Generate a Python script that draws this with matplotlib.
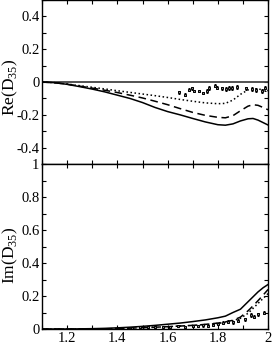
import numpy as np
import matplotlib
matplotlib.use('Agg')
import matplotlib.pyplot as plt
from matplotlib.ticker import MultipleLocator, FuncFormatter

plt.rcParams['font.family'] = ['Liberation Serif', 'DejaVu Serif']
plt.rcParams['mathtext.fontset'] = 'custom'
plt.rcParams['mathtext.rm'] = 'Liberation Serif'

# model curves
x_th = [1.1, 1.15, 1.2, 1.25, 1.3, 1.35, 1.4, 1.45, 1.5, 1.55, 1.6, 1.65, 1.7,
        1.75, 1.8, 1.83, 1.86, 1.89, 1.92, 1.94, 1.96, 1.98, 2.0]
re_solid = [0, -0.004, -0.014, -0.028, -0.043, -0.06, -0.08, -0.1, -0.125, -0.155,
            -0.18, -0.2, -0.222, -0.243, -0.26, -0.263, -0.255, -0.237, -0.224,
            -0.222, -0.232, -0.247, -0.262]
re_dash = [0, -0.004, -0.013, -0.025, -0.037, -0.05, -0.064, -0.08, -0.097, -0.117,
           -0.138, -0.162, -0.185, -0.203, -0.215, -0.218, -0.205, -0.175, -0.147,
           -0.138, -0.142, -0.155, -0.169]
re_dot = [0, -0.004, -0.012, -0.022, -0.032, -0.042, -0.053, -0.063, -0.073, -0.083,
          -0.094, -0.106, -0.117, -0.127, -0.132, -0.13, -0.11, -0.075, -0.048,
          -0.04, -0.042, -0.048, -0.052]
im_solid = [0, 0, 0, 0.001, 0.002, 0.004, 0.007, 0.011, 0.016, 0.022, 0.029, 0.036,
            0.045, 0.055, 0.068, 0.078, 0.1, 0.12, 0.165, 0.195, 0.225, 0.25, 0.27]
im_dash = [0, 0, 0, 0, 0, 0.001, 0.003, 0.005, 0.008, 0.011, 0.014, 0.018, 0.022,
           0.028, 0.036, 0.043, 0.053, 0.072, 0.11, 0.14, 0.172, 0.205, 0.24]
im_dot = [0, 0, 0, 0, 0, 0.001, 0.003, 0.005, 0.008, 0.011, 0.014, 0.018, 0.022,
          0.027, 0.034, 0.04, 0.05, 0.065, 0.095, 0.125, 0.155, 0.185, 0.215]

# data points
x_re = [1.645, 1.670, 1.685, 1.696, 1.706, 1.725, 1.742, 1.757, 1.765, 1.788, 1.798,
        1.818, 1.833, 1.845, 1.858, 1.876, 1.913, 1.936, 1.953, 1.976, 1.989]
y_re = [-0.063, -0.077, -0.047, -0.039, -0.055, -0.055, -0.067, -0.055, -0.034, -0.022,
        -0.034, -0.039, -0.043, -0.039, -0.034, -0.031, -0.039, -0.043, -0.051, -0.055,
        -0.039]
e_re = [0.008, 0.008, 0.01, 0.01, 0.008, 0.008, 0.008, 0.01, 0.012, 0.01, 0.01,
        0.01, 0.012, 0.012, 0.012, 0.012, 0.01, 0.01, 0.012, 0.012, 0.014]
x_im = [1.46, 1.49, 1.52, 1.55, 1.58, 1.61, 1.64, 1.67, 1.70, 1.72, 1.74, 1.76, 1.78,
        1.80, 1.82, 1.84, 1.86, 1.88, 1.91, 1.93, 1.945, 1.96, 1.985]
y_im = [0.008, 0.010, 0.012, 0.014, 0.015, 0.012, 0.018, 0.015, 0.020, 0.018, 0.022,
        0.020, 0.025, 0.030, 0.038, 0.045, 0.042, 0.050, 0.058, 0.085, 0.075, 0.090,
        0.100]
e_im = [0.004, 0.004, 0.005, 0.005, 0.005, 0.005, 0.006, 0.006, 0.006, 0.006, 0.007,
        0.007, 0.008, 0.008, 0.008, 0.009, 0.009, 0.01, 0.01, 0.01, 0.01, 0.01, 0.01]

fig = plt.figure(figsize=(2.73, 3.44), dpi=100)
ax1 = fig.add_axes([0.154, 0.523, 0.828, 0.477])
ax2 = fig.add_axes([0.154, 0.0436, 0.828, 0.4794])

fmt = FuncFormatter(lambda v, p: '%g' % round(v, 3))

for ax in (ax1, ax2):
    ax.set_xlim(1.1, 2.0)
    ax.xaxis.set_major_locator(MultipleLocator(0.2))
    ax.xaxis.set_minor_locator(MultipleLocator(0.1))
    ax.yaxis.set_major_locator(MultipleLocator(0.2))
    ax.yaxis.set_minor_locator(MultipleLocator(0.1))
    ax.tick_params(which='both', direction='in', top=True, right=True,
                   length=3, width=0.8, labelsize=10.5, pad=2)
    ax.xaxis.set_major_formatter(fmt)
    ax.yaxis.set_major_formatter(fmt)
    for s in ax.spines.values():
        s.set_linewidth(1.0)

ax1.set_ylim(-0.5, 0.5)
ax1.set_yticks([-0.4, -0.2, 0, 0.2, 0.4])
ax1.tick_params(labelbottom=False)
ax1.axhline(0, color='#444444', lw=1.3)
ax1.plot(x_th, re_solid, 'k-', lw=1.1)
ax1.plot(x_th, re_dash, 'k--', lw=1.1, dashes=(5, 3))
ax1.plot(x_th, re_dot, 'k:', lw=1.1)
ax1.errorbar(x_re, y_re, yerr=e_re, fmt='s', ms=2, mfc='#888888', mec='k', mew=0.7,
             ecolor='k', elinewidth=0.5, capsize=1, capthick=0.5)
ax1.set_ylabel('Re(D$_{35}$)', fontsize=12.5)
ax1.yaxis.set_label_coords(-0.097, 0.47)

ax2.set_ylim(0, 1)
ax2.plot(x_th, im_solid, 'k-', lw=1.1)
ax2.plot(x_th, im_dash, 'k--', lw=1.1, dashes=(5, 3))
ax2.plot(x_th, im_dot, 'k:', lw=1.1)
ax2.errorbar(x_im, y_im, yerr=e_im, fmt='s', ms=2, mfc='#888888', mec='k', mew=0.7,
             ecolor='k', elinewidth=0.5, capsize=1, capthick=0.5)
ax2.set_ylabel('Im(D$_{35}$)', fontsize=12.5)
ax2.yaxis.set_label_coords(-0.097, 0.45)

fig.savefig('out.png', dpi=100)
